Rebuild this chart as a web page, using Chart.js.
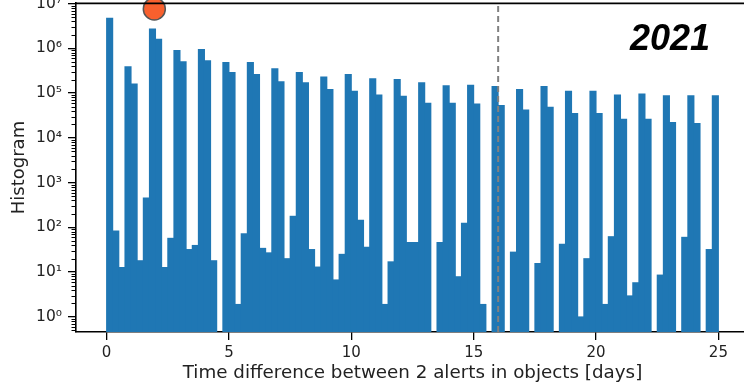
<!DOCTYPE html>
<html>
<head>
    <meta charset="utf-8">
    <title>Alert time differences</title>
    <style>
        html, body { margin: 0; padding: 0; overflow: hidden; background: #fff; }
        #wrap { width: 752px; height: 383px; }
    </style>
    <script src="https://cdn.jsdelivr.net/npm/chart.js"></script>
</head>
<body>
    <div id="wrap"><canvas id="myChart" width="752" height="383"></canvas></div>
    <script>
        // histogram: 100 bins of 0.25 day from 0 to 25
        var binWidth = 0.25;
        var counts = [
            4.7e6, 83, 12.7, 3.9e5, 1.6e5, 18, 454, 2.7e6, 1.6e6, 12.7,
            57, 8.9e5, 5.0e5, 32, 39.5, 9.4e5, 5.3e5, 18, null, 4.8e5,
            2.9e5, 1.9, 72, 4.8e5, 2.6e5, 34, 27, 3.5e5, 1.8e5, 20,
            177, 2.9e5, 1.7e5, 32, 13, 2.3e5, 1.2e5, 6.7, 25, 2.6e5,
            1.1e5, 145, 36, 2.1e5, 9.1e4, 1.9, 17, 2.0e5, 8.5e4, 46,
            46, 1.7e5, 5.9e4, null, 46, 1.45e5, 5.9e4, 7.9, 123, 1.5e5,
            5.7e4, 1.9, null, 1.4e5, 5.3e4, null, 28, 1.2e5, 4.2e4, null,
            15.6, 1.4e5, 4.8e4, null, 42, 1.1e5, 3.5e4, 1, 20, 1.1e5,
            3.5e4, 1.9, 62, 9.1e4, 2.6e4, 2.95, 5.8, 9.5e4, 2.6e4, null,
            8.6, 8.7e4, 2.2e4, null, 60, 8.7e4, 2.1e4, null, 32, 8.7e4
        ];
        var xTicks = [0, 5, 10, 15, 20, 25];
        var yTicks = [1, 10, 100, 1000, 10000, 100000, 1000000, 10000000];
        var cutoffDay = 16;
        var marker = [{ x: 1.95, y: 7.6e6 }];
        var yearLabel = '2021';

        var xMin = -1.25, xMax = 26.25, yMin = 0.46, yMax = 1.03e7;

        var barData = [];
        for (var i = 0; i < counts.length; i++) {
            barData.push({ x: i * binWidth + binWidth / 2, y: counts[i] });
        }

        var sup = { '0': '\u2070', '1': '\u00b9', '2': '\u00b2', '3': '\u00b3', '4': '\u2074',
                    '5': '\u2075', '6': '\u2076', '7': '\u2077', '8': '\u2078', '9': '\u2079' };

        var extras = {
            id: 'extras',
            afterDraw: function (chart) {
                var ctx = chart.ctx;
                var area = chart.chartArea;
                var y = chart.scales.y;
                ctx.save();
                // minor ticks on the log axis
                ctx.strokeStyle = '#000';
                ctx.lineWidth = 1;
                for (var e = -1; e < 7; e++) {
                    for (var m = 2; m < 10; m++) {
                        var v = m * Math.pow(10, e);
                        if (v < yMin || v > yMax) continue;
                        var py = Math.round(y.getPixelForValue(v)) + 0.5;
                        ctx.beginPath();
                        ctx.moveTo(area.left - 4.5, py);
                        ctx.lineTo(area.left, py);
                        ctx.stroke();
                    }
                }
                // top spine
                ctx.lineWidth = 1.8;
                ctx.beginPath();
                ctx.moveTo(area.left - 0.8, area.top + 0.4);
                ctx.lineTo(area.right, area.top + 0.4);
                ctx.stroke();
                // year label
                ctx.fillStyle = '#000';
                ctx.font = 'italic bold 36px "Liberation Sans", Arial, sans-serif';
                ctx.textAlign = 'center';
                ctx.textBaseline = 'alphabetic';
                ctx.fillText(yearLabel, 670, 49.5);
                ctx.restore();
            }
        };

        var ctx = document.getElementById('myChart').getContext('2d');
        window.myChart = new Chart(ctx, {
            type: 'bar',
            data: {
                datasets: [{
                    type: 'line',
                    data: marker,
                    showLine: false,
                    pointRadius: 11,
                    pointHoverRadius: 11,
                    pointBackgroundColor: '#f8602e',
                    pointBorderColor: '#555555',
                    pointBorderWidth: 1.5,
                    clip: false,
                    order: 0
                }, {
                    type: 'line',
                    data: [{ x: cutoffDay, y: yMin }, { x: cutoffDay, y: yMax }],
                    borderColor: '#808080',
                    borderWidth: 2,
                    borderDash: [6, 4],
                    pointRadius: 0,
                    order: 1
                }, {
                    type: 'bar',
                    data: barData,
                    backgroundColor: '#1f77b4',
                    borderWidth: 0,
                    inflateAmount: 0.5,
                    barPercentage: 1,
                    categoryPercentage: 1,
                    order: 2
                }]
            },
            options: {
                responsive: false,
                devicePixelRatio: 1,
                animation: false,
                layout: { autoPadding: false, padding: { top: 3, right: 3, left: 0, bottom: 0 } },
                plugins: { legend: { display: false }, tooltip: { enabled: false } },
                scales: {
                    x: {
                        type: 'linear',
                        min: xMin,
                        max: xMax,
                        offset: false,
                        afterBuildTicks: function (scale) {
                            scale.ticks = xTicks.map(function (v) { return { value: v }; });
                        },
                        afterFit: function (scale) {
                            scale.height = 51;
                            scale.paddingLeft = 0;
                            scale.paddingRight = 0;
                        },
                        border: { display: true, color: '#000', width: 1.6 },
                        grid: { display: true, offset: false, drawOnChartArea: false, drawTicks: true, tickLength: 8, color: '#000', lineWidth: 1.3 },
                        ticks: { color: '#222', padding: 4, maxRotation: 0, font: { family: 'DejaVu Sans', size: 15 } },
                        title: {
                            display: true,
                            text: 'Time difference between 2 alerts in objects [days]',
                            color: '#222',
                            padding: { top: 0, bottom: 0 },
                            font: { family: 'DejaVu Sans', size: 18.3, lineHeight: 1.1 }
                        }
                    },
                    y: {
                        type: 'logarithmic',
                        min: yMin,
                        max: yMax,
                        afterBuildTicks: function (scale) {
                            scale.ticks = yTicks.map(function (v) { return { value: v }; });
                        },
                        afterFit: function (scale) {
                            scale.width = 76;
                            scale.paddingTop = 0;
                            scale.paddingBottom = 0;
                        },
                        border: { display: true, color: '#000', width: 1.6 },
                        grid: { display: true, drawOnChartArea: false, drawTicks: true, tickLength: 8, color: '#000', lineWidth: 1.3 },
                        ticks: {
                            color: '#222',
                            padding: 6,
                            font: { family: 'DejaVu Sans', size: 15.5 },
                            callback: function (v) {
                                var e = String(Math.round(Math.log10(v)));
                                return '10' + e.split('').map(function (c) { return sup[c]; }).join('');
                            }
                        },
                        title: {
                            display: true,
                            text: 'Histogram',
                            color: '#222',
                            padding: { top: 9, bottom: 0 },
                            font: { family: 'DejaVu Sans', size: 18 }
                        }
                    }
                }
            },
            plugins: [extras]
        });
    </script>
</body>
</html>
